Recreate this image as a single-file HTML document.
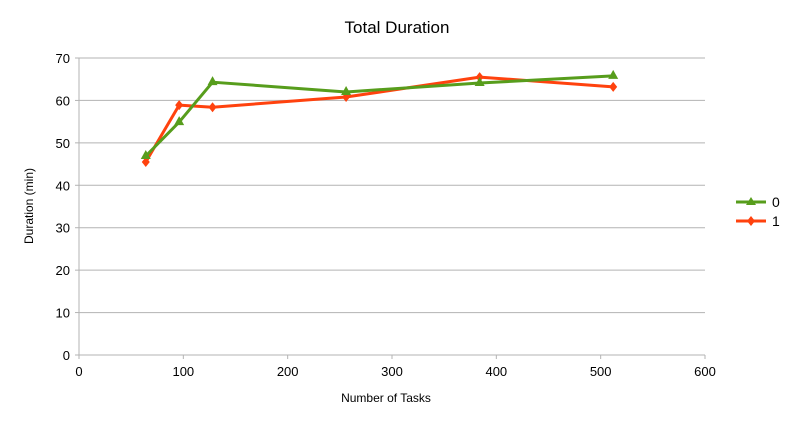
<!DOCTYPE html>
<html><head><meta charset="utf-8"><style>
body{margin:0;background:#fff;}
svg text{font-family:"Liberation Sans",sans-serif;fill:#000;}
</style></head><body>
<svg id="chart" width="793" height="425" xmlns="http://www.w3.org/2000/svg">
<rect width="793" height="425" fill="#fff"/>
<text x="397" y="33" font-size="17" text-anchor="middle">Total Duration</text>
<g id="grid"></g>
<g id="axes"></g>
<g id="series"></g>
<text x="386" y="402" font-size="12" text-anchor="middle">Number of Tasks</text>
<text transform="translate(33,206) rotate(-90)" font-size="12" text-anchor="middle">Duration (min)</text>
<g>
<g>
<line x1="736" y1="202" x2="766" y2="202" stroke="#579d1c" stroke-width="3"/>
<polygon points="751,197 756,205 746,205" fill="#579d1c"/>
<text x="772" y="207" font-size="14">0</text></g>
<g>
<line x1="736" y1="221" x2="766" y2="221" stroke="#ff420e" stroke-width="3"/>
<polygon points="751,216 755,221 751,226 747,221" fill="#ff420e"/>
<text x="772" y="226" font-size="14">1</text></g>
</g>
</svg>
<script>
const xTicks=[0,100,200,300,400,500,600];
const yTicks=[0,10,20,30,40,50,60,70];
const tasks=[64,96,128,256,384,512];
const series0=[46.9,54.9,64.3,62.0,64.1,65.8];
const series1=[45.5,58.9,58.4,60.8,65.5,63.2];
const NS="http://www.w3.org/2000/svg";
const X0=79,X1=705,Y0=355,Y1=58;
const xs=v=>X0+(v-0)/(600)*(X1-X0);
const ys=v=>Y0-(v/70)*(Y0-Y1);
function mk(tag,attrs,parent){const e=document.createElementNS(NS,tag);for(const k in attrs)e.setAttribute(k,attrs[k]);parent.appendChild(e);return e;}
const grid=document.getElementById('grid'),axes=document.getElementById('axes'),ser=document.getElementById('series');
yTicks.forEach(t=>{
 const l=mk('line',{x1:X0,x2:X1,y1:ys(t),y2:ys(t),stroke:'#b3b3b3','stroke-width':1},grid);
 
 
 const tk=mk('line',{x1:X0-4,x2:X0,y1:ys(t),y2:ys(t),stroke:'#b3b3b3'},axes);
 
 
 const tx=mk('text',{x:X0-9,y:ys(t)+5,'font-size':13,'text-anchor':'end'},axes);tx.textContent=t;
 
 
});
mk('line',{x1:X0,x2:X0,y1:Y1,y2:Y0,stroke:'#b3b3b3'},axes);
xTicks.forEach(t=>{
 const tk=mk('line',{x1:xs(t),x2:xs(t),y1:Y0,y2:Y0+4,stroke:'#b3b3b3'},axes);
 
 
 const tx=mk('text',{x:xs(t),y:Y0+21,'font-size':13,'text-anchor':'middle'},axes);tx.textContent=t;
 
 
});
function draw(vals,color,shape,name){
 const g=mk('g',{},ser);
 
 
 mk('polyline',{points:tasks.map((t,i)=>xs(t)+','+ys(vals[i])).join(' '),fill:'none',stroke:color,'stroke-width':3,'stroke-linejoin':'round'},g);
 tasks.forEach((t,i)=>{const x=xs(t),y=ys(vals[i]);
  const pts=shape==='tri'?`${x},${y-6} ${x+5},${y+3} ${x-5},${y+3}`:`${x},${y-5} ${x+4},${y} ${x},${y+5} ${x-4},${y}`;
  const p=mk('polygon',{points:pts,fill:color},g);
  
  
 });
}
draw(series1,'#ff420e','dia','series-1');
draw(series0,'#579d1c','tri','series-0');
</script>
</body></html>
